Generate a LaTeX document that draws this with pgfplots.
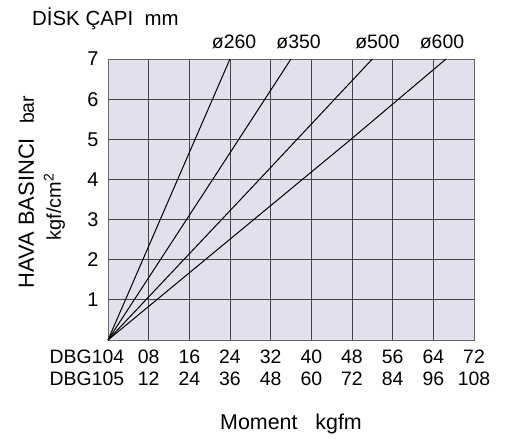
\documentclass[border=0pt]{standalone}
\usepackage{pgfplots}
\pgfplotsset{compat=1.18}
\usepackage{fontspec}
\setmainfont{Liberation Sans}
\definecolor{bgl}{HTML}{E4DFEC}
\definecolor{gridc}{HTML}{454545}
\begin{document}
\begin{tikzpicture}
\path[use as bounding box] (-108bp,-99bp) rectangle (401bp,340bp);
\begin{axis}[
  at={(0,0)}, anchor=south west,
  scale only axis, width=366bp, height=281bp,
  xmin=0, xmax=72, ymin=0, ymax=7,
  xtick={0,8,...,72}, ytick={1,...,7},
  xticklabels={{\llap{DBG}104\\\llap{DBG}105},{08\\12},{16\\24},{24\\36},{32\\48},{40\\60},{48\\72},{56\\84},{64\\96},{72\\108}},
  xticklabel style={align=center, font=\fontsize{19.5}{23}\selectfont, yshift=-6bp},
  yticklabel style={font=\fontsize{20}{23}\selectfont, xshift=-6bp},
  /pgf/number format/assume math mode=true,
  grid=major, major grid style={gridc, line width=1bp},
  axis line style={gray!80!black, line width=1bp},
  major tick length=0pt,
  axis background/.style={fill=bgl},
  clip=false,
]
\addplot[black, line width=1bp] coordinates {(0,0)(13.7,4)(24,7)};
\addplot[black, line width=1bp] coordinates {(0,0)(20.6,4)(36,7)};
\addplot[black, line width=1bp] coordinates {(0,0)(29.8,4)(52,7)};
\addplot[black, line width=1bp] coordinates {(0,0)(47.8,5)(66.5,7)};
\node[font=\fontsize{19.5}{22}\selectfont, anchor=base] at (axis cs:24.8,7) [yshift=11bp] {ø260};
\node[font=\fontsize{19.5}{22}\selectfont, anchor=base] at (axis cs:37.5,7) [yshift=11bp] {ø350};
\node[font=\fontsize{19.5}{22}\selectfont, anchor=base] at (axis cs:53,7) [yshift=11bp] {ø500};
\node[font=\fontsize{19.5}{22}\selectfont, anchor=base] at (axis cs:65.7,7) [yshift=11bp] {ø600};
\end{axis}
\node[anchor=base west, inner sep=0pt, font=\fontsize{20.5}{24}\selectfont] at (-76bp,314bp) {DİSK ÇAPI\ \ mm};
\node[rotate=90, anchor=base, inner sep=0pt] at (-74bp,148bp) {{\fontsize{22}{24}\selectfont HAVA BASINCI}\hspace{14bp}{\fontsize{19.5}{22}\selectfont bar}};
\node[rotate=90, anchor=base, inner sep=0pt, font=\fontsize{20}{22}\selectfont] at (-47bp,133bp) {kgf/cm\textsuperscript{2}};
\node[anchor=base, inner sep=0pt, font=\fontsize{21.5}{24}\selectfont] at (183bp,-89bp) {Moment\ \ \ kgfm};
\end{tikzpicture}
\end{document}
